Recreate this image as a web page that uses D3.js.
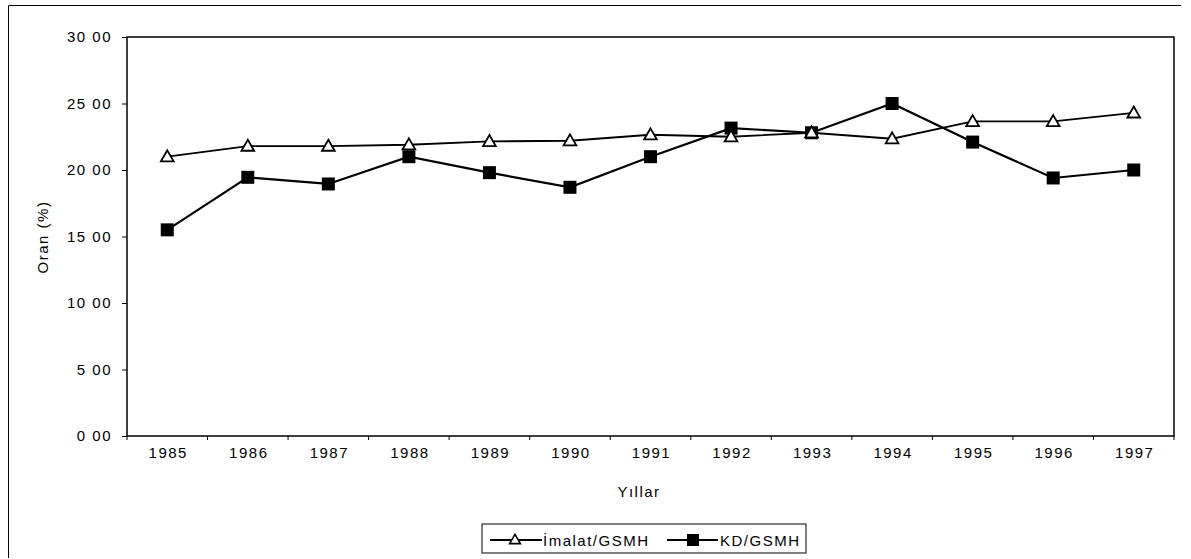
<!DOCTYPE html>
<html>
<head>
<meta charset="utf-8">
<script src="https://cdn.jsdelivr.net/npm/d3@7"></script>
<style>
  body { margin: 0; background: #fff; }
  text { font-family: "Liberation Sans", Arial, sans-serif; fill: #000; font-size: 15px; letter-spacing: 1.5px; }
</style>
</head>
<body>
<div id="container"></div>
<script>
var years = ["1985", "1986", "1987", "1988", "1989", "1990", "1991", "1992", "1993", "1994", "1995", "1996", "1997"];
var imalat = [21.0, 21.8, 21.8, 21.9, 22.15, 22.2, 22.65, 22.5, 22.8, 22.35, 23.65, 23.65, 24.3];
var kd = [15.5, 19.45, 18.95, 21.0, 19.8, 18.7, 21.0, 23.15, 22.8, 25.0, 22.1, 19.4, 20.0];
var yTicks = [0, 5, 10, 15, 20, 25, 30];
var seriesNames = ["\u0130malat/GSMH", "KD/GSMH"];

var width = 1191, height = 559;
var margin = { top: 37, left: 127, right: 17, bottom: 123 };

var svg = d3.select("#container").append("svg")
  .attr("width", width).attr("height", height);

// outer frame (only top and left edge survive in the scan)
svg.append("path")
  .attr("d", "M8.5,5.5H1181M8.5,5.5V558")
  .attr("fill", "none").attr("stroke", "#000").attr("stroke-width", 1);

var x = d3.scaleBand().domain(years).range([margin.left, width - margin.right]);
var y = d3.scaleLinear().domain([0, 30]).range([height - margin.bottom, margin.top]);

var g = svg.append("g");

// plot frame
g.append("rect")
  .attr("x", margin.left).attr("y", margin.top)
  .attr("width", width - margin.left - margin.right)
  .attr("height", height - margin.top - margin.bottom)
  .attr("fill", "none").attr("stroke", "#000").attr("stroke-width", 1.5);

var yAxis = g.append("g")
  .attr("transform", "translate(" + margin.left + ",0)")
  .call(d3.axisLeft(y).tickValues(yTicks).tickSize(5).tickPadding(10)
    .tickFormat(function (d) { return d3.format(".2f")(d).replace(".", " "); }));
yAxis.select(".domain").remove();
yAxis.attr("font-size", null).attr("font-family", null);

var xAxis = g.append("g")
  .attr("transform", "translate(0," + (height - margin.bottom) + ")")
  .call(d3.axisBottom(x).tickSize(0).tickPadding(22));
xAxis.select(".domain").remove();
xAxis.attr("font-size", null).attr("font-family", null);
xAxis.selectAll("text").attr("dy", null).attr("dx", 1);

// tick marks at category boundaries
g.selectAll(".xtick").data(d3.range(years.length + 1)).enter().append("line")
  .attr("x1", function (i) { return margin.left + i * x.step(); })
  .attr("x2", function (i) { return margin.left + i * x.step(); })
  .attr("y1", height - margin.bottom)
  .attr("y2", height - margin.bottom + 4)
  .attr("stroke", "#000");

svg.append("text")
  .attr("transform", "translate(48,237) rotate(-90)")
  .attr("text-anchor", "middle")
  .text("Oran (%)");

svg.append("text")
  .attr("x", 639)
  .attr("y", 497)
  .attr("text-anchor", "middle")
  .text("Yıllar");

var line = d3.line()
  .x(function (d, i) { return x(years[i]) + x.bandwidth() / 2; })
  .y(function (d) { return y(d); });

var tri = d3.symbol().type(d3.symbolTriangle).size(70);

g.append("path").datum(imalat).attr("d", line)
  .attr("fill", "none").attr("stroke", "#000").attr("stroke-width", 1.8);
g.append("path").datum(kd).attr("d", line)
  .attr("fill", "none").attr("stroke", "#000").attr("stroke-width", 2.2);

g.selectAll(".sq").data(kd).enter().append("rect")
  .attr("x", function (d, i) { return x(years[i]) + x.bandwidth() / 2 - 6.5; })
  .attr("y", function (d) { return y(d) - 6.5; })
  .attr("width", 13).attr("height", 13)
  .attr("fill", "#000");

g.selectAll(".tri").data(imalat).enter().append("path")
  .attr("d", tri)
  .attr("transform", function (d, i) {
    return "translate(" + (x(years[i]) + x.bandwidth() / 2) + "," + (y(d) + 1) + ")";
  })
  .attr("fill", "#fff").attr("stroke", "#000").attr("stroke-width", 1.8);

// legend
var lg = svg.append("g").attr("transform", "translate(482,524)");
lg.append("rect").attr("width", 324).attr("height", 29)
  .attr("fill", "#fff").attr("stroke", "#000").attr("stroke-width", 1);

lg.append("line").attr("x1", 8).attr("x2", 60).attr("y1", 16).attr("y2", 16)
  .attr("stroke", "#000").attr("stroke-width", 1.8);
lg.append("path").attr("d", d3.symbol().type(d3.symbolTriangle).size(50))
  .attr("transform", "translate(33,16.5)")
  .attr("fill", "#fff").attr("stroke", "#000").attr("stroke-width", 1.6);
lg.append("text").attr("x", 61).attr("y", 21.5).text(seriesNames[0]);

lg.append("line").attr("x1", 185).attr("x2", 236).attr("y1", 16).attr("y2", 16)
  .attr("stroke", "#000").attr("stroke-width", 2.2);
lg.append("rect").attr("x", 205).attr("y", 10).attr("width", 12).attr("height", 12).attr("fill", "#000");
lg.append("text").attr("x", 238).attr("y", 21.5).text(seriesNames[1]);
</script>
</body>
</html>
